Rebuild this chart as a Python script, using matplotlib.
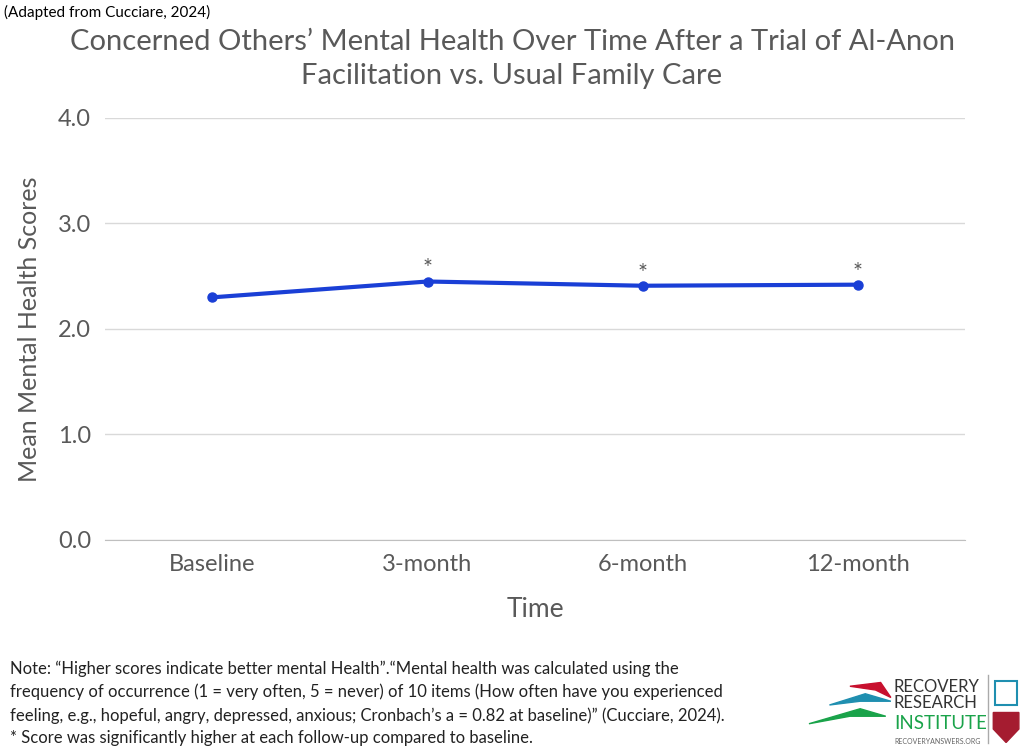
import matplotlib.pyplot as plt
from matplotlib.patches import Polygon

categories = ["Baseline", "3-month", "6-month", "12-month"]
scores = [2.30, 2.45, 2.41, 2.42]
significant = [False, True, True, True]
yticks = [0.0, 1.0, 2.0, 3.0, 4.0]

gray = "#595959"
blue = "#1a3fd6"
plt.rcParams['font.family'] = ['Lato', 'DejaVu Sans']

fig = plt.figure(figsize=(10.24, 7.5), dpi=100)
ax = fig.add_axes([0.1025, 0.28, 0.84, 0.5627])

x = list(range(len(categories)))
ax.plot(x, scores, color=blue, lw=3, marker="o", ms=6.5, zorder=3)
for xi, s, sig in zip(x, scores, significant):
    if sig:
        ax.text(xi, s + 0.02, "*", ha="center", va="bottom", fontsize=17, color=gray)

ax.set_xlim(-0.5, 3.5)
ax.set_ylim(0, 4)
ax.set_yticks(yticks)
ax.set_yticklabels([f"{v:.1f}" for v in yticks])
ax.set_xticks(x)
ax.set_xticklabels(categories)
ax.tick_params(axis="both", length=0, labelsize=17, colors=gray, pad=10)
ax.grid(axis="y", color="#d9d9d9", lw=1)
ax.set_axisbelow(True)
for side in ["top", "right", "left"]:
    ax.spines[side].set_visible(False)
ax.spines["bottom"].set_color("#bfbfbf")
ax.set_xlabel("Time", fontsize=19, color=gray, labelpad=16)
ax.set_ylabel("Mean Mental Health Scores", fontsize=18, color=gray, labelpad=12)

fig.text(0.004, 0.993, "(Adapted from Cucciare, 2024)", fontsize=11, color="black", va="top")
fig.text(0.5, 0.962, "Concerned Others\u2019 Mental Health Over Time After a Trial of Al-Anon\nFacilitation vs. Usual Family Care",
         ha="center", va="top", fontsize=21, color=gray, linespacing=1.4)

note = ("Note: \u201cHigher scores indicate better mental Health\u201d.\u201cMental health was calculated using the\n"
        "frequency of occurrence (1 = very often, 5 = never) of 10 items (How often have you experienced\n"
        "feeling, e.g., hopeful, angry, depressed, anxious; Cronbach\u2019s a = 0.82 at baseline)\u201d (Cucciare, 2024).\n"
        "* Score was significantly higher at each follow-up compared to baseline.")
fig.text(0.01, 0.062, note, fontsize=12, color="#222222", va="center", linespacing=1.5)

# logo
for pts, c in [([(0.79, 0.035), (0.84, 0.055), (0.865, 0.045), (0.83, 0.045)], "#1aa34a"),
               ([(0.81, 0.06), (0.845, 0.075), (0.87, 0.065), (0.84, 0.065)], "#1f8fb0"),
               ([(0.83, 0.085), (0.86, 0.09), (0.87, 0.07), (0.855, 0.08)], "#c8102e")]:
    fig.patches.append(Polygon(pts, closed=True, transform=fig.transFigure, color=c))
fig.text(0.873, 0.073, "RECOVERY\nRESEARCH", fontsize=12, color="#333333", va="center", linespacing=1.0)
fig.text(0.873, 0.035, "INSTITUTE", fontsize=13.5, color="#1aa34a", va="center")
fig.text(0.873, 0.012, "RECOVERYANSWERS.ORG", fontsize=5, color="#666666", va="center")
fig.add_artist(plt.Line2D([0.965, 0.965], [0.01, 0.1], color="#aaaaaa", lw=1, transform=fig.transFigure))
fig.patches.append(Polygon([(0.97, 0.05), (0.995, 0.05), (0.995, 0.028), (0.9825, 0.01), (0.97, 0.028)],
                           closed=True, transform=fig.transFigure, color="#a51c30"))
fig.patches.append(Polygon([(0.972, 0.06), (0.993, 0.06), (0.993, 0.092), (0.972, 0.092)],
                           closed=True, transform=fig.transFigure, fill=False, ec="#1f8fb0", lw=1.5))

fig.savefig("out.png", dpi=100)
